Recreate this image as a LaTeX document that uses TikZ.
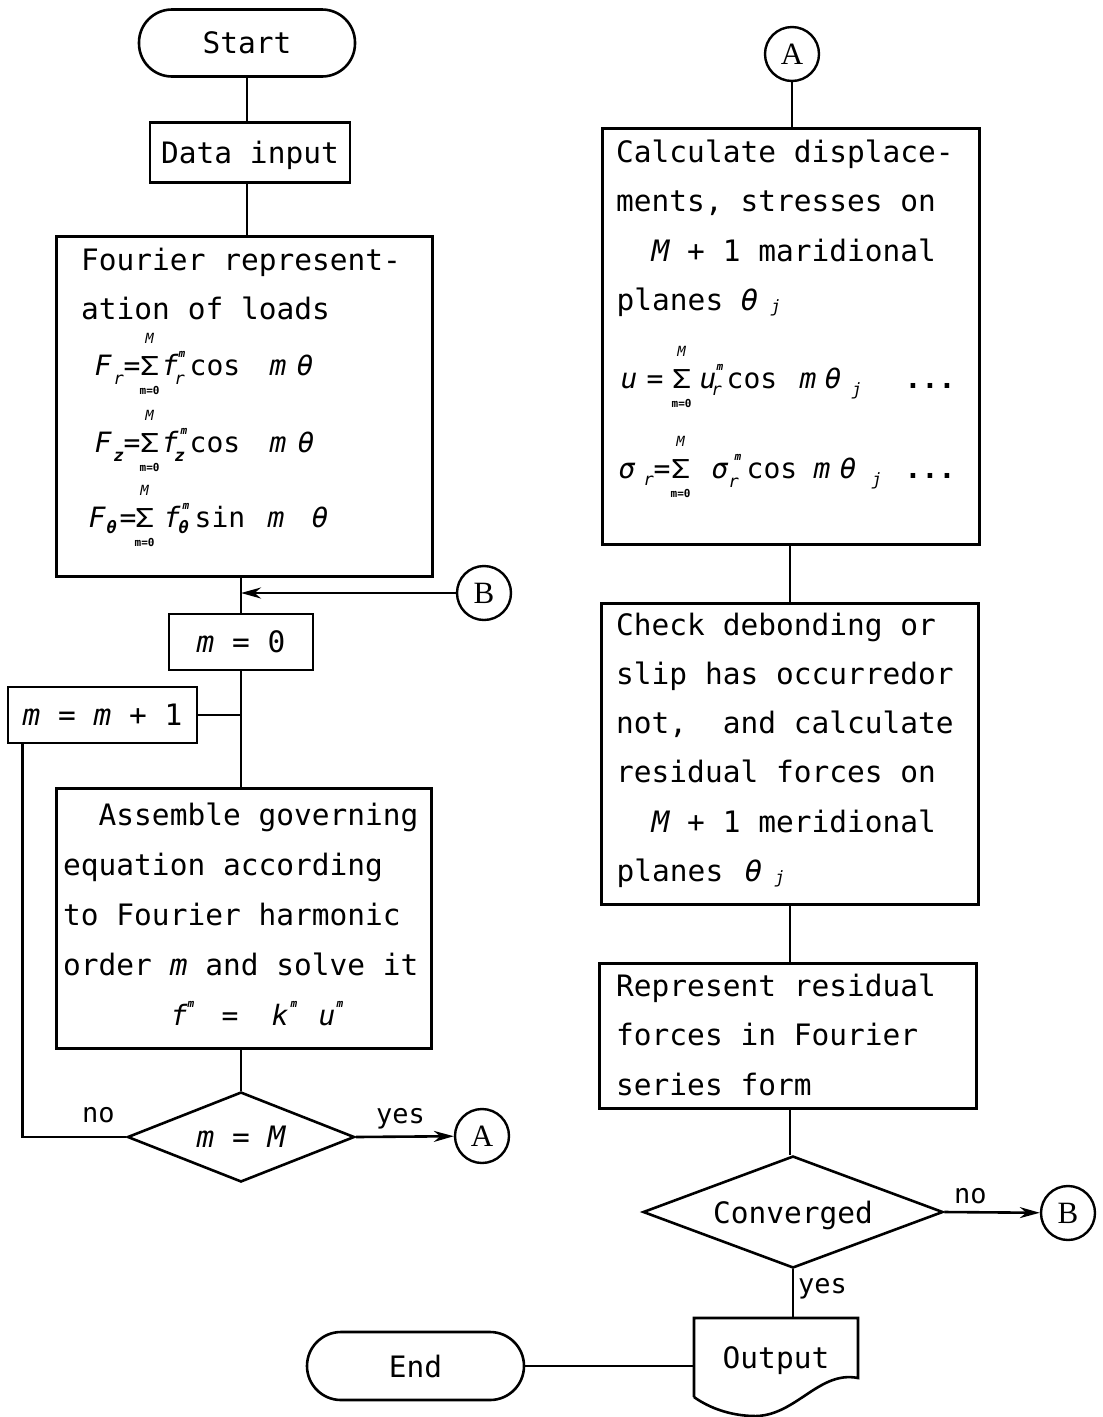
\documentclass[tikz,border=0pt]{standalone}
\usepackage{fontspec}
\usepackage{graphicx}
\setmainfont{DejaVu Sans Mono}
\newfontfamily\circfont{Liberation Serif}
\usetikzlibrary{arrows.meta,shapes.geometric}

% text sizes
\newcommand\mainsz{\fontsize{29.5}{49.5}\selectfont}
\newcommand\eqsz{\fontsize{28}{28}\selectfont}
% italic variable, lowered subscript, raised superscript
\newcommand\ivar[1]{{\itshape #1}}
\newcommand\subx[2][-9]{\raisebox{#1pt}{\fontsize{17}{17}\selectfont\itshape #2}}
\newcommand\supx[1]{\raisebox{18pt}{\fontsize{11}{11}\selectfont\bfseries\itshape #1}}
% put a piece at a fixed offset from the start of the line
\newcommand\atx[2]{\rlap{\kern#1pt\relax #2}}
% summation sign with limits M and m=0
\newcommand\sumop{\ooalign{\hfil\scalebox{1.25}[1]{\fontsize{26}{26}\selectfont Σ}\hfil\cr
  \hfil\raisebox{32pt}{\fontsize{14}{14}\selectfont\itshape M}\hfil\cr
  \hfil\raisebox{-19pt}{\fontsize{11}{11}\selectfont\bfseries m=0}\hfil\cr}}

\begin{document}
\begin{tikzpicture}[x=1pt,y=-1pt,
  line/.style={line width=2.6pt, black},
  arr/.style={line, -{Stealth[length=20pt,width=11pt]}},
  proc/.style={draw, line width=2.6pt, rectangle, inner sep=0pt, font=\mainsz, text depth=0pt},
  term/.style={proc, rounded corners=33pt},
  decide/.style={draw, line width=2.6pt, diamond, shape aspect=2.5, inner sep=0pt, font=\mainsz, text depth=0pt},
  conn/.style={draw, line width=2.4pt, circle, inner sep=0pt, minimum size=54pt, font=\circfont\fontsize{31}{31}\selectfont},
  txt/.style={inner sep=0pt, anchor=base west, font=\mainsz},
  eqa/.style={txt, font=\eqsz},
  lbl/.style={txt, font=\fontsize{27}{27}\selectfont},
  hidden/.style={rectangle, inner sep=0pt, font=\mainsz, text depth=0pt}
]
\fill[white] (0,0) rectangle (1103,1417);
\useasboundingbox (0,0) rectangle (1103,1417);

% ---------------- left column ----------------
\node[term, minimum width=216pt, minimum height=67pt] (start) at (247,43) {Start};
\node[proc, minimum width=200pt, minimum height=60pt] (data) at (250,152.5) {Data input};

\node[proc, anchor=north west, minimum width=376pt, minimum height=340pt] (four) at (55,235) {};
\foreach \t [count=\i] in {{Fourier represent-}, {ation of loads}}
  \node[txt] (four-\i) at (81,{270+49.5*(\i-1)}) {\t};
\node[eqa] (eqFr) at (100,375) {\atx{-6}{\ivar{F}}\atx{13}{\subx{r}}\atx{23}{=}\atx{39}{\sumop}\atx{61}{\ivar{f}}\atx{74}{\subx{r}}\atx{78}{\supx{m}}\atx{89}{cos}\atx{169}{\ivar{m}}\atx{196}{\ivar{θ}}};
\node[eqa] (eqFz) at (100,452) {\atx{-6}{\ivar{F}}\atx{13}{\subx{\bfseries z}}\atx{23}{=}\atx{39}{\sumop}\atx{61}{\ivar{f}}\atx{74}{\subx{\bfseries z}}\atx{80}{\supx{m}}\atx{89}{cos}\atx{169}{\ivar{m}}\atx{197}{\ivar{θ}}};
\node[eqa] (eqFt) at (100,527) {\atx{-12}{\ivar{F}}\atx{6}{\subx[-6]{\bfseries θ}}\atx{19}{=}\atx{34}{\sumop}\atx{63}{\ivar{f}}\atx{78}{\subx[-6]{\bfseries θ}}\atx{82}{\supx{m}}\atx{94}{sin}\atx{167}{\ivar{m}}\atx{211}{\ivar{θ}}};

\node[conn] (B1) at (484,593) {B};
\node[proc, minimum width=144pt, minimum height=56pt] (m0) at (241,642) {\ivar{m} = 0};
\node[proc, minimum width=189pt, minimum height=56pt] (inc) at (102.5,715) {\ivar{m} = \ivar{m} + 1};
\coordinate (incfoot) at ([xshift=16pt]inc.south west);

\node[proc, anchor=north west, minimum width=375pt, minimum height=260pt] (asm) at (55,787) {};
\foreach \t [count=\i] in {{\hphantom{xx}Assemble governing}, {equation according}, {to Fourier harmonic}, {order \ivar{m} and solve it}}
  \node[txt] (asm-\i) at (63,{825+50*(\i-1)}) {\t};
\node[eqa] (eqfku) at (63,1025) {\atx{107}{\ivar{f}}\atx{124}{\supx{m}}\atx{158}{=}\atx{208}{\ivar{k}}\atx{227}{\supx{m}}\atx{255}{\ivar{u}}\atx{273}{\supx{m}}};

\node[decide, minimum width=227pt, minimum height=90pt] (dm) at (241,1137) {\ivar{m} = \ivar{M}};
\node[conn] (A1) at (482,1136) {A};
\node[lbl] (noL) at (82,1122) {no};
\node[lbl] (yesL) at (376,1123) {yes};

% ---------------- right column ----------------
\coordinate (rx) at (790,0);
\node[conn] (A2) at (792,54) {A};
\node[proc, anchor=north west, minimum width=377pt, minimum height=416pt] (calc) at (601,127) {};
\foreach \t [count=\i] in {{Calculate displace-}, {ments, stresses on}, {\hphantom{xx}\ivar{M} + 1 maridional}, {\atx{0}{planes}\atx{124}{\ivar{θ}}\atx{154}{\subx[-2]{j}}}}
  \node[txt] (calc-\i) at (616,{162+49.5*(\i-1)}) {\t};
\node[eqa] (equ) at (600,388) {\atx{20}{\ivar{u}}\atx{46}{=}\atx{71}{\sumop}\atx{99}{\ivar{u}}\atx{111}{\subx[-7]{r}}\atx{116}{\supx{m}}\atx{126}{cos}\atx{199}{\ivar{m}}\atx{224}{\ivar{θ}}\atx{251}{\subx[-7]{j}}\atx{304}{\bfseries .}\atx{321}{\bfseries .}\atx{338}{\bfseries .}};
\node[eqa] (eqs) at (600,478) {\atx{18}{\ivar{σ}}\atx{43}{\subx[-7]{r}}\atx{53}{=}\atx{70}{\sumop}\atx{111}{\ivar{σ}}\atx{128}{\subx{r}}\atx{134}{\supx{m}}\atx{146}{cos}\atx{213}{\ivar{m}}\atx{239}{\ivar{θ}}\atx{271}{\subx[-7]{j}}\atx{304}{\bfseries .}\atx{321}{\bfseries .}\atx{338}{\bfseries .}};

\node[proc, anchor=north west, minimum width=377pt, minimum height=301pt] (chk) at (600,602) {};
\foreach \t [count=\i] in {{Check debonding or}, {slip has occurredor}, {not,\hphantom{x} and calculate}, {residual forces on}, {\hphantom{xx}\ivar{M} + 1 meridional}, {\atx{0}{planes}\atx{128}{\ivar{θ}}\atx{158}{\subx[-2]{j}}}}
  \node[txt] (chk-\i) at (616,{635+49.3*(\i-1)}) {\t};

\node[proc, anchor=north west, minimum width=377pt, minimum height=145pt] (rep) at (598,962) {};
\foreach \t [count=\i] in {{Represent residual}, {forces in Fourier}, {series form}}
  \node[txt] (rep-\i) at (616,{996+49.5*(\i-1)}) {\t};

\node[decide, minimum width=300pt, minimum height=112pt] (conv) at (793,1212) {Converged};
\node[conn] (B2) at (1068,1213) {B};
\node[lbl] (noR) at (954,1203) {no};
\node[lbl] (yesR) at (798,1293) {yes};

% output document and end terminal
\node[hidden, minimum width=164pt, minimum height=80pt] (out) at (776,1358) {Output};
\draw[line] (694,1397) -- (694,1318) -- (858,1318) -- (858,1378)
  .. controls (818,1370) and (795,1418) .. (752,1416)
  .. controls (725,1415) and (705,1405) .. (694,1397);
\node[term, minimum width=217pt, minimum height=68pt, rounded corners=34pt] (end) at (415.5,1366) {End};

% ---------------- connectors ----------------
\draw[line] (start.south) -- (start.south |- data.north);
\draw[line] (data.south -| start.south) -- (four.north -| start.south);
\draw[line] (four.south -| m0.north) -- (m0.north);
\draw[arr] (B1) -- (B1 -| m0.north);
\draw[line] (m0.south) -- (m0.south |- asm.north);
\draw[line] (inc.east) -- (inc.east -| m0.south);
\draw[line] (asm.south -| dm.north) -- (dm.north);
\draw[line] (dm.west) -| (incfoot);
\draw[arr] (dm.east) -- (A1);

\draw[line] (A2) -- (A2 |- calc.north);
\draw[line] (calc.south -| rx) -- (chk.north -| rx);
\draw[line] (chk.south -| rx) -- (rep.north -| rx);
\draw[line] (rep.south -| rx) -- (conv.north -| rx);
\draw[arr] (conv.east) -- (B2);
\draw[line] (conv.south) -- (conv.south |- out.north);
\draw[line] (end.east) -- (end.east -| out.west);
\end{tikzpicture}
\end{document}
